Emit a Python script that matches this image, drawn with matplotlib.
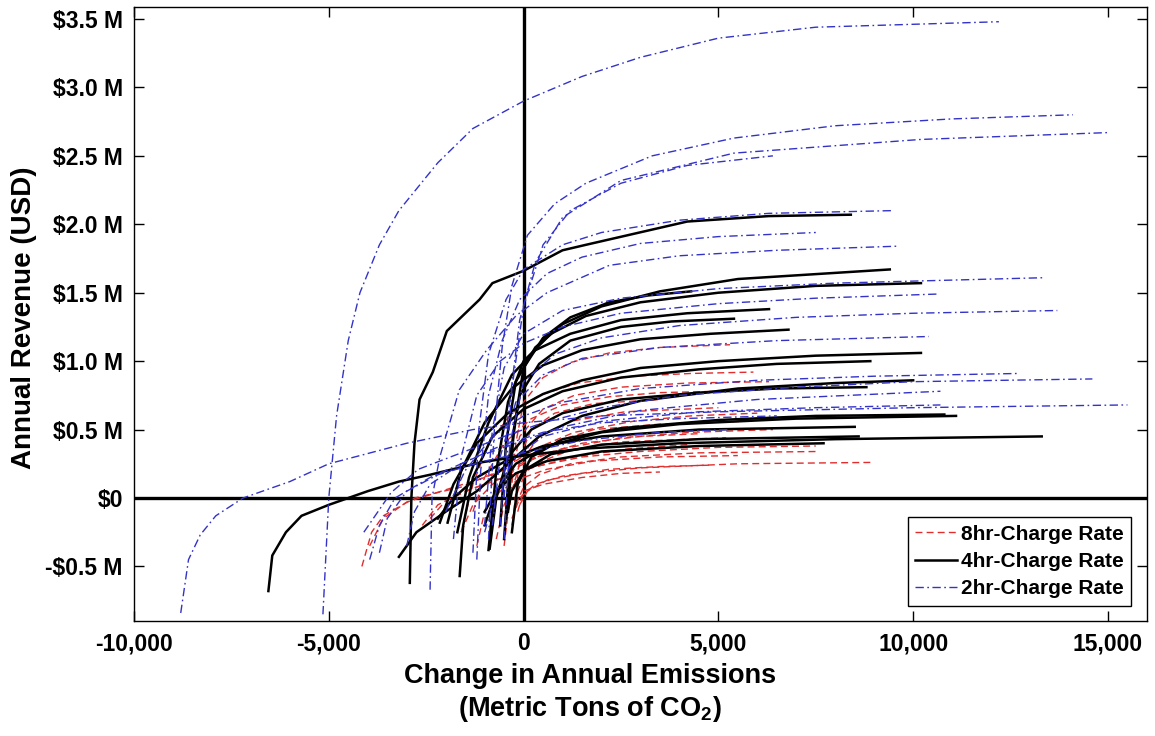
import matplotlib
matplotlib.use("Agg")
import matplotlib.pyplot as plt

plt.rcParams["font.family"] = ["Liberation Sans", "DejaVu Sans"]
plt.rcParams["font.weight"] = "bold"
plt.rcParams["mathtext.fontset"] = "custom"
plt.rcParams["mathtext.rm"] = "Liberation Sans:bold"
plt.rcParams["mathtext.it"] = "Liberation Sans:bold"
plt.rcParams["mathtext.bf"] = "Liberation Sans:bold"

# points are (thousand metric tons CO2, million USD)

# 8hr charge rate
r01 = [(-0.35, -0.05), (-0.2, 0.4), (0, 0.7), (0.5, 0.88), (1.2, 0.99), (2.2, 1.06), (3.5, 1.1), (5.3, 1.12)]
r02 = [(-1.6, -0.25), (-1.3, 0.1), (-0.9, 0.4), (-0.3, 0.62), (0.4, 0.75), (1.4, 0.84), (2.8, 0.89), (4.3, 0.91), (5.9, 0.92)]
r03 = [(-0.5, -0.3), (-0.35, 0.1), (-0.1, 0.45), (0.5, 0.65), (1.3, 0.75), (2.5, 0.81), (4.2, 0.84), (6.3, 0.85)]
r04 = [(-1.3, -0.1), (-1.0, 0.15), (-0.5, 0.4), (0.2, 0.58), (1.0, 0.68), (2.2, 0.74), (3.5, 0.77), (5.0, 0.78)]
r05 = [(-4.15, -0.5), (-3.9, -0.25), (-3.6, -0.13), (-2.8, 0.0), (-1.6, 0.08), (-0.6, 0.2), (0.3, 0.36), (1.3, 0.48), (2.8, 0.56), (4.3, 0.6), (6.0, 0.62)]
r06 = [(-0.3, -0.2), (-0.15, 0.05), (0.2, 0.28), (0.8, 0.41), (1.8, 0.5), (3.5, 0.54), (5.6, 0.56)]
r07 = [(-3.95, -0.35), (-3.6, -0.15), (-3.0, -0.03), (-2.0, 0.06), (-1.0, 0.15), (0, 0.26), (1.0, 0.36), (2.5, 0.44), (4.3, 0.48), (6.4, 0.5)]
r08 = [(-1.6, -0.25), (-1.3, -0.05), (-0.8, 0.1), (-0.2, 0.22), (0.5, 0.32), (1.5, 0.4), (3.0, 0.45), (4.5, 0.47)]
r09 = [(-0.7, -0.3), (-0.5, -0.05), (-0.2, 0.12), (0.3, 0.25), (1.2, 0.35), (2.5, 0.41), (5.2, 0.44)]
r10 = [(-2.4, -0.15), (-2.0, -0.02), (-1.3, 0.07), (-0.5, 0.15), (0.3, 0.23), (1.5, 0.3), (3.0, 0.34), (5.0, 0.37), (7.5, 0.38)]
r11 = [(-0.2, -0.05), (0, 0.08), (0.4, 0.17), (1.2, 0.25), (2.5, 0.3), (4.5, 0.33), (7.6, 0.34)]
r12 = [(-1.2, -0.35), (-1.0, -0.1), (-0.6, 0.05), (-0.1, 0.14), (0.6, 0.21), (1.8, 0.27), (3.5, 0.3), (5.5, 0.31)]
r13 = [(-0.1, -0.05), (0.1, 0.05), (0.6, 0.13), (1.5, 0.18), (3.0, 0.22), (5.5, 0.25), (8.9, 0.26)]
r14 = [(-0.3, -0.15), (-0.1, 0.0), (0.3, 0.1), (1.0, 0.16), (2.2, 0.21), (3.5, 0.23), (4.8, 0.24)]
r15 = [(-0.15, -0.1), (0, 0.05), (0.5, 0.1), (1.5, 0.15), (2.5, 0.18), (3.5, 0.19)]
r16 = [(-0.25, -0.1), (-0.1, 0.3), (0.2, 0.5), (0.8, 0.62), (1.8, 0.69), (3.5, 0.72)]
r17 = [(-0.5, -0.35), (-0.35, 0.0), (-0.1, 0.25), (0.4, 0.45), (1.2, 0.56), (2.6, 0.63), (5.0, 0.66)]
r18 = [(-2.6, -0.2), (-2.2, -0.05), (-1.5, 0.05), (-0.7, 0.13), (0.2, 0.22), (1.3, 0.3), (2.7, 0.36), (4.2, 0.39)]

# 4hr charge rate
k01 = [(-2.92, -0.62), (-2.88, 0.0), (-2.8, 0.4), (-2.67, 0.72), (-2.33, 0.92), (-1.97, 1.22), (-1.13, 1.45), (-0.8, 1.57), (0, 1.66), (1.0, 1.81), (1.6, 1.85), (4.2, 2.02), (6.3, 2.06), (8.4, 2.07)]
k02 = [(-0.6, -0.2), (-0.45, 0.4), (-0.2, 0.85), (0.3, 1.1), (1.0, 1.27), (2.0, 1.4), (3.5, 1.51), (5.5, 1.6), (9.4, 1.67)]
k03 = [(-0.4, -0.1), (-0.25, 0.5), (0, 0.95), (0.5, 1.17), (1.2, 1.32), (2.2, 1.43), (3.2, 1.48), (4.3, 1.51)]
k04 = [(-0.9, -0.38), (-0.7, 0.2), (-0.4, 0.7), (0, 1.0), (0.7, 1.2), (1.6, 1.33), (3.0, 1.43), (5.0, 1.5), (7.5, 1.55), (10.2, 1.57)]
k05 = [(-1.7, -0.25), (-1.4, 0.15), (-0.9, 0.55), (-0.3, 0.9), (0.3, 1.08), (1.2, 1.2), (2.5, 1.3), (4.2, 1.35), (6.3, 1.38)]
k06 = [(-0.5, -0.3), (-0.35, 0.3), (-0.1, 0.75), (0.4, 0.98), (1.2, 1.15), (2.5, 1.25), (3.8, 1.29), (5.4, 1.31)]
k07 = [(-1.95, -0.18), (-1.6, 0.2), (-1.0, 0.55), (-0.3, 0.8), (0.5, 0.97), (1.5, 1.08), (3.0, 1.16), (4.8, 1.2), (6.8, 1.23)]
k08 = [(-2.15, -0.18), (-1.8, 0.1), (-1.2, 0.4), (-0.4, 0.62), (0.5, 0.76), (1.5, 0.86), (3.0, 0.95), (5.0, 1.0), (7.5, 1.04), (10.2, 1.06)]
k09 = [(-1.64, -0.57), (-1.55, -0.2), (-1.3, 0.15), (-0.8, 0.45), (0, 0.65), (1.0, 0.78), (2.5, 0.88), (4.5, 0.94), (6.5, 0.98), (8.9, 1.0)]
k10 = [(-3.2, -0.43), (-2.75, -0.25), (-2.0, -0.1), (-1.2, 0.05), (-0.4, 0.25), (0.4, 0.45), (1.5, 0.6), (3.0, 0.71), (5.5, 0.8), (8.0, 0.84), (10.0, 0.86)]
k11 = [(-0.87, -0.37), (-0.7, 0.0), (-0.4, 0.3), (0.2, 0.5), (1.0, 0.62), (2.5, 0.72), (4.5, 0.77), (6.5, 0.8), (8.8, 0.81)]
k12 = [(-1.0, -0.2), (-0.7, 0.05), (-0.2, 0.25), (0.6, 0.38), (2.0, 0.48), (4.0, 0.54), (7.0, 0.58), (11.1, 0.6)]
k13 = [(-0.3, -0.25), (-0.15, 0.1), (0.2, 0.3), (1.0, 0.43), (2.5, 0.51), (5.0, 0.57), (7.5, 0.6), (10.8, 0.61)]
k14 = [(-6.55, -0.68), (-6.45, -0.42), (-6.1, -0.25), (-5.7, -0.13), (-5.0, -0.05), (-4.0, 0.05), (-3.2, 0.12), (-2.4, 0.17), (-1.1, 0.26), (0, 0.31), (1.5, 0.36), (4.0, 0.4), (8.0, 0.43), (13.3, 0.45)]
k15 = [(-2.2, -0.15), (-1.8, 0.0), (-1.2, 0.15), (-0.4, 0.28), (0.5, 0.38), (2.0, 0.45), (4.5, 0.5), (8.5, 0.52)]
k16 = [(-0.45, -0.15), (-0.3, 0.05), (0, 0.2), (0.7, 0.32), (2.0, 0.39), (4.5, 0.43), (8.6, 0.45)]
k17 = [(-1.0, -0.1), (-0.7, 0.05), (-0.2, 0.18), (0.6, 0.27), (2.0, 0.34), (4.5, 0.38), (7.7, 0.4)]

# 2hr charge rate
b01 = [(-5.15, -0.85), (-5.0, 0.0), (-4.8, 0.6), (-4.5, 1.15), (-4.2, 1.5), (-3.7, 1.85), (-3.2, 2.1), (-2.2, 2.45), (-1.3, 2.7), (0, 2.9), (1.5, 3.08), (3.0, 3.22), (5.0, 3.36), (7.5, 3.44), (12.2, 3.48)]
b02 = [(-8.8, -0.84), (-8.6, -0.45), (-8.3, -0.27), (-7.9, -0.13), (-7.2, 0.0), (-6.0, 0.12), (-5.0, 0.25), (-3.0, 0.4), (-1.3, 0.5), (0, 0.55), (2.0, 0.6), (5.0, 0.63), (10.0, 0.66), (15.5, 0.68)]
b03 = [(-0.9, -0.3), (-0.75, 0.5), (-0.55, 1.1), (-0.3, 1.55), (0.1, 1.92), (0.8, 2.15), (1.6, 2.3), (3.3, 2.5), (5.4, 2.63), (8.0, 2.72), (11.0, 2.77), (14.1, 2.8)]
b04 = [(-0.6, -0.2), (-0.4, 0.6), (-0.1, 1.3), (0.3, 1.72), (1.0, 2.05), (2.5, 2.32), (5.4, 2.52), (10.2, 2.62), (15.0, 2.67)]
b05 = [(-0.5, 0.0), (-0.3, 0.8), (0, 1.4), (0.5, 1.85), (1.2, 2.1), (2.5, 2.3), (4.2, 2.43), (6.4, 2.5)]
b06 = [(-1.3, -0.4), (-1.15, 0.5), (-0.9, 1.05), (-0.45, 1.45), (0, 1.67), (1.0, 1.85), (2.0, 1.94), (4.0, 2.03), (6.3, 2.08), (9.5, 2.1)]
b07 = [(-1.2, -0.45), (-1.1, 0.2), (-0.9, 0.75), (-0.55, 1.15), (-0.1, 1.45), (0.6, 1.64), (1.5, 1.76), (3.0, 1.86), (5.0, 1.91), (7.5, 1.94)]
b08 = [(-2.4, -0.67), (-2.35, 0.0), (-2.15, 0.3), (-1.65, 0.79), (-0.95, 1.08), (-0.2, 1.33), (0.6, 1.5), (2.2, 1.7), (4.0, 1.77), (6.5, 1.81), (9.6, 1.84)]
b09 = [(-1.0, -0.2), (-0.8, 0.5), (-0.5, 0.95), (0, 1.2), (1.0, 1.37), (2.5, 1.46), (5.0, 1.53), (8.0, 1.57), (13.4, 1.61)]
b10 = [(-1.8, -0.3), (-1.6, 0.3), (-1.2, 0.75), (-0.6, 1.0), (0, 1.13), (1.0, 1.25), (2.5, 1.35), (5.0, 1.42), (7.5, 1.46), (10.6, 1.49)]
b11 = [(-0.5, -0.3), (-0.35, 0.4), (0, 0.85), (0.8, 1.05), (2.0, 1.17), (4.0, 1.26), (7.0, 1.32), (10.0, 1.35), (13.7, 1.37)]
b12 = [(-0.8, -0.2), (-0.6, 0.3), (-0.2, 0.7), (0.5, 0.9), (1.5, 1.02), (3.5, 1.1), (6.5, 1.15), (10.4, 1.18)]
b13 = [(-2.0, -0.1), (-1.5, 0.2), (-0.8, 0.45), (0, 0.6), (1.0, 0.7), (3.0, 0.8), (6.0, 0.86), (9.0, 0.89), (12.7, 0.91)]
b14 = [(-4.1, -0.25), (-3.4, 0.04), (-2.7, 0.21), (-1.6, 0.33), (-0.5, 0.45), (0.5, 0.55), (2.0, 0.66), (4.0, 0.75), (7.0, 0.81), (10.0, 0.85), (14.6, 0.87)]
b15 = [(-3.95, -0.45), (-3.7, -0.2), (-3.3, 0.0), (-2.4, 0.15), (-1.2, 0.3), (0, 0.42), (1.0, 0.52), (3.0, 0.64), (6.0, 0.72), (10.7, 0.78)]
b16 = [(-1.0, -0.25), (-0.7, 0.05), (-0.2, 0.3), (0.5, 0.45), (2.0, 0.56), (4.5, 0.63), (7.5, 0.66), (10.7, 0.68)]
b17 = [(-3.0, -0.35), (-2.8, -0.1), (-2.4, 0.1), (-1.6, 0.25), (-0.6, 0.38), (0.5, 0.48), (2.0, 0.55), (4.0, 0.58), (6.5, 0.6)]
b18 = [(-3.7, -0.4), (-3.5, -0.15), (-3.0, 0.05), (-2.2, 0.17), (-1.0, 0.27), (0, 0.33), (1.5, 0.42), (3.5, 0.48), (5.3, 0.5)]

red_curves = [r01, r02, r03, r04, r05, r06, r07, r08, r09, r10, r11, r12, r13, r14, r15, r16, r17, r18]
black_curves = [k01, k02, k03, k04, k05, k06, k07, k08, k09, k10, k11, k12, k13, k14, k15, k16, k17]
blue_curves = [b01, b02, b03, b04, b05, b06, b07, b08, b09, b10, b11, b12, b13, b14, b15, b16, b17, b18]

x_ticks = [-10, -5, 0, 5, 10, 15]
x_tick_labels = ["-10,000", "-5,000", "0", "5,000", "10,000", "15,000"]
y_ticks = [-0.5, 0, 0.5, 1.0, 1.5, 2.0, 2.5, 3.0, 3.5]
y_tick_labels = ["-\\$0.5 M", "\\$0", "\\$0.5 M", "\\$1.0 M", "\\$1.5 M", "\\$2.0 M", "\\$2.5 M", "\\$3.0 M", "\\$3.5 M"]

RED = (0.88, 0.18, 0.18)
BLUE = (0.2, 0.2, 0.78)

fig = plt.figure(figsize=(11.55, 7.36), dpi=100)
ax = fig.add_axes([0.116, 0.156, 0.877, 0.834])

ax.axhline(0, color="black", lw=2.4, zorder=1)
ax.axvline(0, color="black", lw=2.4, zorder=1)

for i, c in enumerate(red_curves):
    xs, ys = zip(*c)
    ax.plot(xs, ys, color=RED, lw=1.0, dashes=(5, 3),
            label="8hr-Charge Rate" if i == 0 else None, zorder=2)
for i, c in enumerate(black_curves):
    xs, ys = zip(*c)
    ax.plot(xs, ys, color="black", lw=1.8,
            label="4hr-Charge Rate" if i == 0 else None, zorder=3)
for i, c in enumerate(blue_curves):
    xs, ys = zip(*c)
    ax.plot(xs, ys, color=BLUE, lw=1.0, dashes=(6, 2.5, 1.2, 2.5),
            label="2hr-Charge Rate" if i == 0 else None, zorder=4)

ax.set_xlim(-10, 16)
ax.set_ylim(-0.9, 3.585)
ax.set_xticks(x_ticks)
ax.set_xticklabels(x_tick_labels)
ax.set_yticks(y_ticks)
ax.set_yticklabels(y_tick_labels)
ax.tick_params(direction="in", length=7, width=1, top=True, right=True, labelsize=16.5, pad=8)
for s in ax.spines.values():
    s.set_linewidth(1.0)

ax.set_ylabel("Annual Revenue (USD)", fontsize=20, fontweight="bold")
ax.yaxis.set_label_coords(-0.096, 0.494)
ax.set_xlabel("Change in Annual Emissions\n(Metric Tons of CO$_2$)", fontsize=19.5,
              fontweight="bold", linespacing=1.25)
ax.xaxis.set_label_coords(0.45, -0.068)

leg = ax.legend(loc="lower right", fontsize=15, fancybox=False, framealpha=1,
                edgecolor="black", handlelength=2.0, handletextpad=0.2,
                labelspacing=0.4, borderaxespad=0.75, borderpad=0.35)
leg.get_frame().set_linewidth(1.0)
for t in leg.get_texts():
    t.set_fontweight("bold")

fig.savefig("out.png", dpi=100)
